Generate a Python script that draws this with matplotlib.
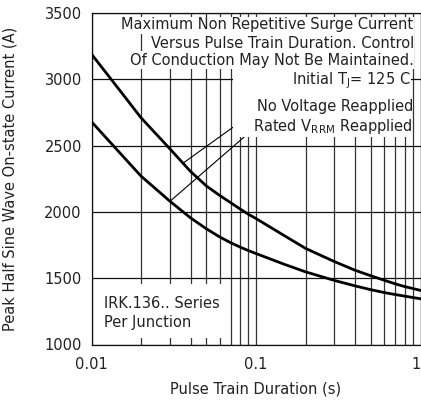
import numpy as np
import matplotlib
matplotlib.use("Agg")
import matplotlib.pyplot as plt
from matplotlib.patches import Rectangle

# ---- data ----
duration_no_voltage = [0.01, 0.015, 0.02, 0.03, 0.04, 0.05, 0.06, 0.07, 0.08, 0.09, 0.1,
                       0.15, 0.2, 0.3, 0.4, 0.5, 0.6, 0.7, 0.8, 0.9, 1.0]
current_no_voltage = [3190, 2910, 2710, 2475, 2305, 2195, 2125, 2070, 2022, 1982, 1950,
                      1818, 1725, 1625, 1560, 1518, 1485, 1458, 1437, 1422, 1408]

duration_rated_v = [0.01, 0.015, 0.02, 0.03, 0.04, 0.05, 0.06, 0.07, 0.08, 0.09, 0.1,
                    0.15, 0.2, 0.3, 0.4, 0.5, 0.6, 0.7, 0.8, 0.9, 1.0]
current_rated_v = [2680, 2440, 2270, 2080, 1955, 1872, 1812, 1768, 1735, 1708, 1686,
                   1603, 1548, 1483, 1442, 1413, 1392, 1377, 1365, 1354, 1345]

x_ticks = [0.01, 0.1, 1]
x_tick_labels = ["0.01", "0.1", "1"]
y_ticks = [1000, 1500, 2000, 2500, 3000, 3500]

W, H = 421, 404
FS = 10.5
plt.rcParams['font.family'] = ['DejaVu Sans']
fig = plt.figure(figsize=(W / 100, H / 100), dpi=100)

def fx(px):
    return px / W

def fy(py):
    return 1 - py / H

ax_l, ax_r, ax_t, ax_b = 91.5, 420.5, 13, 344.5
ax = fig.add_axes([fx(ax_l), fy(ax_b), fx(ax_r - ax_l), (ax_b - ax_t) / H])

ax.set_xscale('log')
ax.set_xlim(0.01, 1)
ax.set_ylim(1000, 3500)
ax.set_xticks(x_ticks)
ax.set_xticklabels(x_tick_labels)
ax.set_yticks(y_ticks)
ax.xaxis.set_minor_locator(matplotlib.ticker.LogLocator(base=10, subs=np.arange(2, 10)))
ax.xaxis.set_minor_formatter(matplotlib.ticker.NullFormatter())
ax.tick_params(axis='both', which='both', length=0, labelsize=FS, colors='#222222')
ax.tick_params(axis='x', pad=9)
ax.tick_params(axis='y', pad=7)
ax.get_xticklabels()[-1].set_horizontalalignment('right')

ax.grid(True, which='both', axis='x', color='#333333', lw=0.9)
ax.grid(True, which='major', axis='y', color='#111111', lw=0.9)
ax.set_axisbelow(True)
for s in ax.spines.values():
    s.set_linewidth(0.9)
    s.set_color('#111111')

ax.plot(duration_no_voltage, current_no_voltage, color='black', lw=2.0, zorder=3,
        solid_joinstyle='round')
ax.plot(duration_rated_v, current_rated_v, color='black', lw=2.0, zorder=3,
        solid_joinstyle='round')

ax.set_xlabel("Pulse Train Duration (s)", fontsize=FS, labelpad=7, color='#222222')
ax.set_ylabel("Peak Half Sine Wave On-state Current (A)", fontsize=FS, labelpad=19,
              color='#222222')

# white panels behind annotation text (cover the grid)
def white_box(x0, y0, x1, y1):
    fig.patches.append(Rectangle((fx(x0), fy(y1)), fx(x1 - x0), (y1 - y0) / H,
                                 transform=fig.transFigure, facecolor='white',
                                 edgecolor='none', zorder=1))

white_box(125, 17, 414, 34)
white_box(146, 34, 414, 51)
white_box(129, 51, 414, 69)
white_box(233, 69, 411, 137)
white_box(96, 284, 226, 338)

tkw = dict(fontsize=FS, color='#222222', zorder=3)
fig.text(fx(413), fy(25), "Maximum Non Repetitive Surge Current", ha='right', va='center', **tkw)
fig.text(fx(414), fy(43), "Versus Pulse Train Duration. Control", ha='right', va='center', **tkw)
fig.text(fx(414), fy(61), "Of Conduction May Not Be Maintained.", ha='right', va='center', **tkw)
fig.text(fx(411), fy(81), r"Initial T$_\mathregular{J}$= 125 C", ha='right', va='center', **tkw)
t_nv = fig.text(fx(413), fy(106), "No Voltage Reapplied", ha='right', va='center', **tkw)
t_rv = fig.text(fx(413), fy(127), r"Rated V$_\mathregular{RRM}$ Reapplied", ha='right', va='center', **tkw)
fig.text(fx(104), fy(303), "IRK.136.. Series", ha='left', va='center', **tkw)
fig.text(fx(104), fy(323), "Per Junction", ha='left', va='center', **tkw)

# leader lines from labels to curves
fig.canvas.draw()
x_nv_text = t_nv.get_window_extent().x0 - 1
x_rv_text = t_rv.get_window_extent().x0 - 1

target_nv = 0.036
y_nv = np.interp(np.log10(target_nv), np.log10(duration_no_voltage), current_no_voltage)
target_rv = 0.03
y_rv = np.interp(np.log10(target_rv), np.log10(duration_rated_v), current_rated_v)
ax.annotate("", xy=(target_nv, y_nv), xycoords='data',
            xytext=(fx(x_nv_text), fy(111)), textcoords='figure fraction',
            arrowprops=dict(arrowstyle='-', color='black', lw=0.8, shrinkA=0, shrinkB=0),
            zorder=4, annotation_clip=False)
ax.annotate("", xy=(target_rv, y_rv), xycoords='data',
            xytext=(fx(x_rv_text), fy(130)), textcoords='figure fraction',
            arrowprops=dict(arrowstyle='-', color='black', lw=0.8, shrinkA=0, shrinkB=0),
            zorder=4, annotation_clip=False)

fig.savefig("out.png", dpi=100)
